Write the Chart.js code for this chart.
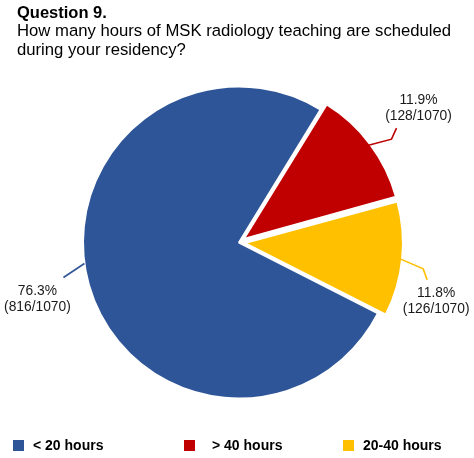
<!DOCTYPE html>
<html>
<head>
<meta charset="utf-8">
<script src="https://cdn.jsdelivr.net/npm/chart.js@4.4.1/dist/chart.umd.min.js"></script>
<style>
  html, body { margin: 0; padding: 0; background: #ffffff; }
  #wrap { position: relative; width: 474px; height: 458px; }
</style>
</head>
<body>
<div id="wrap"><canvas id="c" width="474" height="458"></canvas></div>
<script>
// ---- data ----
const titleText = 'Question 9.';
const subtitleLines = ['How many hours of MSK radiology teaching are scheduled', 'during your residency?'];
const categories = ['< 20 hours', '> 40 hours', '20-40 hours'];
const legendLabels = ['< 20 hours', '> 40 hours', '20-40 hours'];
const counts = [816, 128, 126];
const totalCount = 1070;
const percentLabels = ['76.3%', '11.9%', '11.8%'];

// ---- styles ----
const colors = ['#2E5597', '#C00000', '#FFC000'];
const explodePx = [0, 6, 6];              // visual explode distance in px
const FONT = '"Liberation Sans", Arial, Helvetica, sans-serif';

// label leader geometry (relative to the slice edge anchor), style only
const labelStyles = [
  { angleShift: 8, pts: [[-21, 14]], text: [-47, 28] },
  { angleShift: 0, pts: [[23, -6], [28, -17]], text: [50, -45] },
  { angleShift: 0, pts: [[23, 10], [27, 21]], text: [36, 34] }
];
const legendX = [13, 184, 343];
const legendTextX = [33, 212, 363];

const overlayPlugin = {
  id: 'overlay',
  afterDatasetsDraw(chart) {
    const ctx = chart.ctx;
    const meta = chart.getDatasetMeta(0);
    ctx.save();
    meta.data.forEach((arc, i) => {
      const p = arc.getProps(['x', 'y', 'startAngle', 'endAngle', 'outerRadius'], true);
      const st = labelStyles[i];
      const mid = (p.startAngle + p.endAngle) / 2 + st.angleShift * Math.PI / 180;
      const r = p.outerRadius + explodePx[i];
      const sx = p.x + Math.cos(mid) * r;
      const sy = p.y + Math.sin(mid) * r;
      ctx.strokeStyle = colors[i];
      ctx.lineWidth = 1.6;
      ctx.beginPath();
      ctx.moveTo(sx, sy);
      st.pts.forEach(q => ctx.lineTo(sx + q[0], sy + q[1]));
      ctx.stroke();
      ctx.fillStyle = '#1a1a1a';
      ctx.font = '13.8px ' + FONT;
      ctx.textAlign = 'center';
      ctx.textBaseline = 'middle';
      const tx = sx + st.text[0], ty = sy + st.text[1];
      ctx.fillText(percentLabels[i], tx, ty);
      ctx.fillText('(' + counts[i] + '/' + totalCount + ')', tx, ty + 16);
    });
    ctx.restore();
  },
  afterDraw(chart) {
    const ctx = chart.ctx;
    ctx.save();
    ctx.fillStyle = '#000000';
    ctx.textAlign = 'left';
    ctx.textBaseline = 'alphabetic';
    ctx.font = 'bold 16.5px ' + FONT;
    ctx.fillText(titleText, 17, 18);
    ctx.font = '16.7px ' + FONT;
    subtitleLines.forEach((l, k) => ctx.fillText(l, 17, 36 + k * 19));
    // legend
    ctx.font = 'bold 14px ' + FONT;
    legendLabels.forEach((l, i) => {
      ctx.fillStyle = colors[i];
      ctx.fillRect(legendX[i], 440, 11, 11);
      ctx.fillStyle = '#000000';
      ctx.fillText(l, legendTextX[i], 450);
    });
    ctx.restore();
  }
};

new Chart(document.getElementById('c'), {
  type: 'pie',
  data: {
    labels: categories,
    datasets: [{
      data: counts,
      backgroundColor: colors,
      borderColor: '#ffffff',
      borderWidth: 2,
      // Chart.js v4 translates arcs by offset/4
      offset: explodePx.map(v => v * 4),
      hoverOffset: 0
    }]
  },
  options: {
    responsive: false,
    animation: false,
    rotation: 117,
    radius: 156,
    layout: { padding: { left: 83, right: 79, top: 86, bottom: 59 } },
    plugins: {
      legend: { display: false },
      title: { display: false },
      tooltip: { enabled: false }
    }
  },
  plugins: [overlayPlugin]
});
</script>
</body>
</html>
